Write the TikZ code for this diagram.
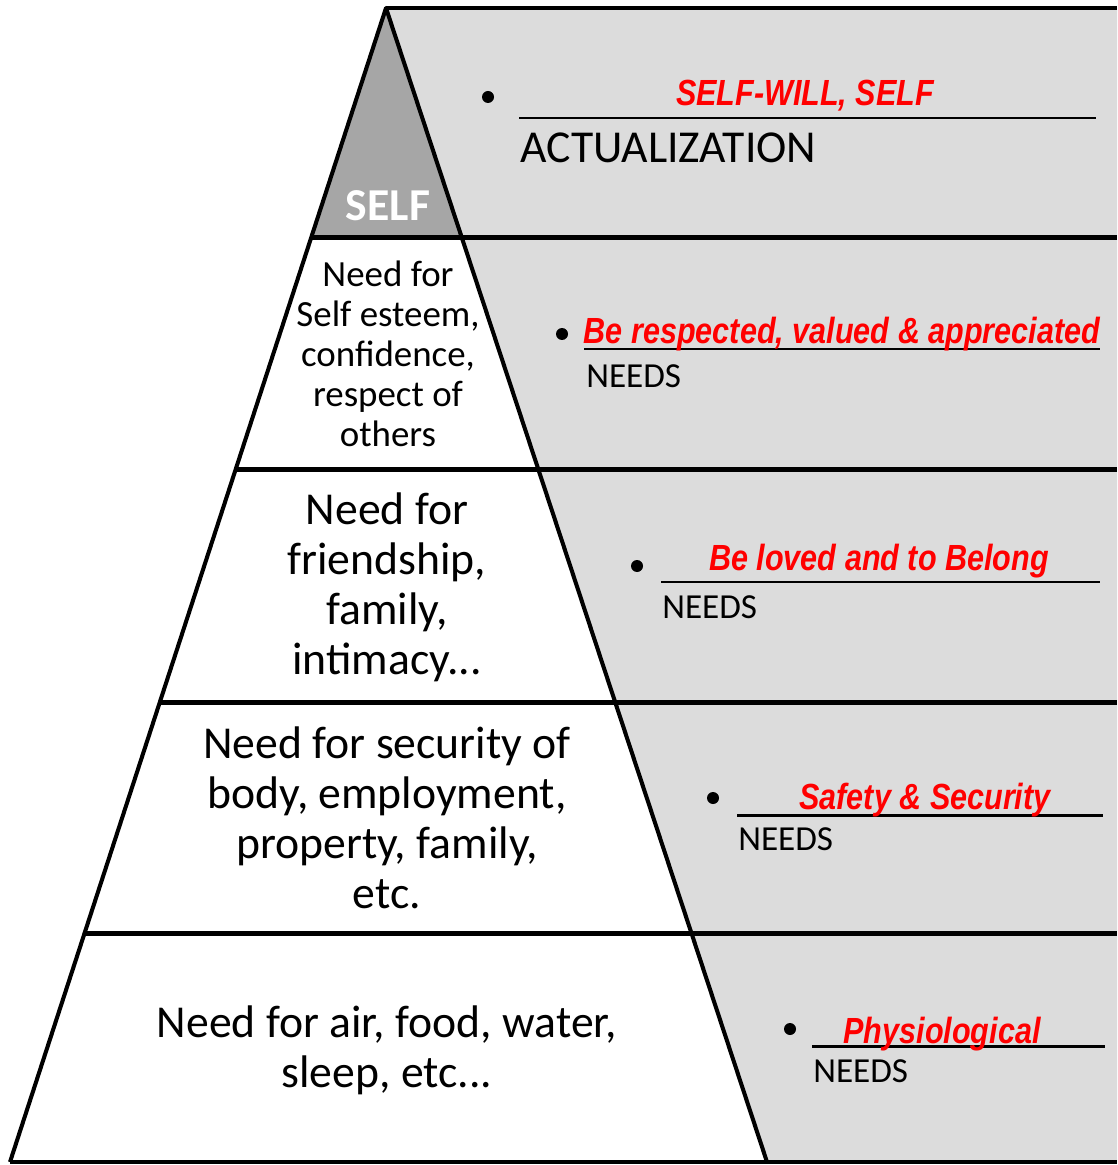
\documentclass[tikz,border=0pt]{standalone}
\usepackage{fontspec}
\usepackage{graphicx}
\usepackage{xcolor}
\setmainfont{Carlito}
\newfontfamily\arialfont{Liberation Sans}
\usetikzlibrary{calc}

\definecolor{paneGray}{HTML}{DCDCDC}
\definecolor{tipGray}{HTML}{A6A6A6}
\definecolor{answerRed}{HTML}{FF0000}
\newcommand{\answertext}[1]{\scalebox{0.84}[1]{\arialfont\bfseries\itshape #1}}

\begin{document}
\begin{tikzpicture}[
    x=0.02cm, y=-0.02cm,
    level/.style={align=center, font=\fontsize{26}{28.45}\selectfont},
    toplevel/.style={align=center, font=\fontsize{21}{22.76}\selectfont},
    answer/.style={text=answerRed, font=\fontsize{20.7}{24}\selectfont, inner sep=0pt, anchor=base},
    needs/.style={font=\fontsize{20}{24}\selectfont, inner sep=0pt, anchor=base west},
    bullet/.style={circle, fill=black, inner sep=0pt, minimum size=0.24cm},
    blank/.style={line width=1.7pt},
    divider/.style={line width=2.85pt},
    side/.style={line width=2.3pt, line join=round}
]
    \useasboundingbox (0,0) rectangle (1117,1165);

    % Pyramid corners
    \coordinate (apex) at (386,8);
    \coordinate (botleft) at (10,1162);
    \coordinate (botright) at (767,1162);
    \coordinate (topedge) at (1117,8);
    \coordinate (botedge) at (1117,1162);

    % Shading
    \fill[paneGray] (apex) -- (topedge) -- (botedge) -- (botright) -- cycle;
    \fill[tipGray] (apex) -- ($(apex)!0.1993!(botright)$) -- ($(apex)!0.1993!(botleft)$) -- cycle;

    % Dividers
    \foreach \t in {0.1993,0.4003,0.6014,0.8024} {
        \coordinate (cut) at ($(apex)!\t!(botleft)$);
        \draw[divider] (cut) -- (cut -| topedge);
    }
    \draw[side] (botleft) -- (apex) -- (botright);
    \draw[side] (apex) -- (topedge);
    \draw[side] (botleft) -- (botedge);

    % Pyramid levels
    \node[font=\fontsize{26}{28}\selectfont\bfseries, text=white] (self) at (388,206) {SELF};
    \node[toplevel] (esteem) at (388,354) {Need for\\Self esteem,\\confidence,\\respect of\\others};
    \node[level] (love) at (387,587) {Need for\\friendship,\\family,\\intimacy...};
    \node[level] (security) at (387,818) {Need for security of\\body, employment,\\property, family,\\etc.};
    \node[level] (body) at (387,1050) {Need for air, food, water,\\sleep, etc...};

    % Self actualization
    \node[bullet] (dot1) at (488,97) {};
    \coordinate (line1) at (519,118);
    \draw[blank] (line1) -- ++(577,0);
    \node[answer] (ans1) at (805,106) {\answertext{SELF-WILL, SELF}};
    \node[needs, font=\fontsize{26}{28}\selectfont] (need1) at (520,163) {ACTUALIZATION};

    % Esteem
    \node[bullet] (dot2) at (562,334) {};
    \coordinate (line2) at (584,349);
    \draw[blank] (line2) -- ++(516,0);
    \node[answer] (ans2) at (842,344) {\answertext{Be respected, valued \& appreciated}};
    \node[needs] (need2) at (586,387) {NEEDS};

    % Love
    \node[bullet] (dot3) at (637,566) {};
    \coordinate (line3) at (661,582);
    \draw[blank] (line3) -- ++(439,0);
    \node[answer] (ans3) at (879,570) {\answertext{Be loved and to Belong}};
    \node[needs] (need3) at (662,618) {NEEDS};

    % Safety
    \node[bullet] (dot4) at (713,798) {};
    \coordinate (line4) at (737,815);
    \draw[blank] (line4) -- ++(366,0);
    \node[answer] (ans4) at (925,809) {\answertext{Safety \& Security}};
    \node[needs] (need4) at (738,850) {NEEDS};

    % Physiological
    \node[bullet] (dot5) at (790,1029) {};
    \coordinate (line5) at (812,1046);
    \draw[blank] (line5) -- ++(293,0);
    \node[answer] (ans5) at (942,1043) {\answertext{Physiological}};
    \node[needs] (need5) at (813,1082) {NEEDS};
\end{tikzpicture}
\end{document}
